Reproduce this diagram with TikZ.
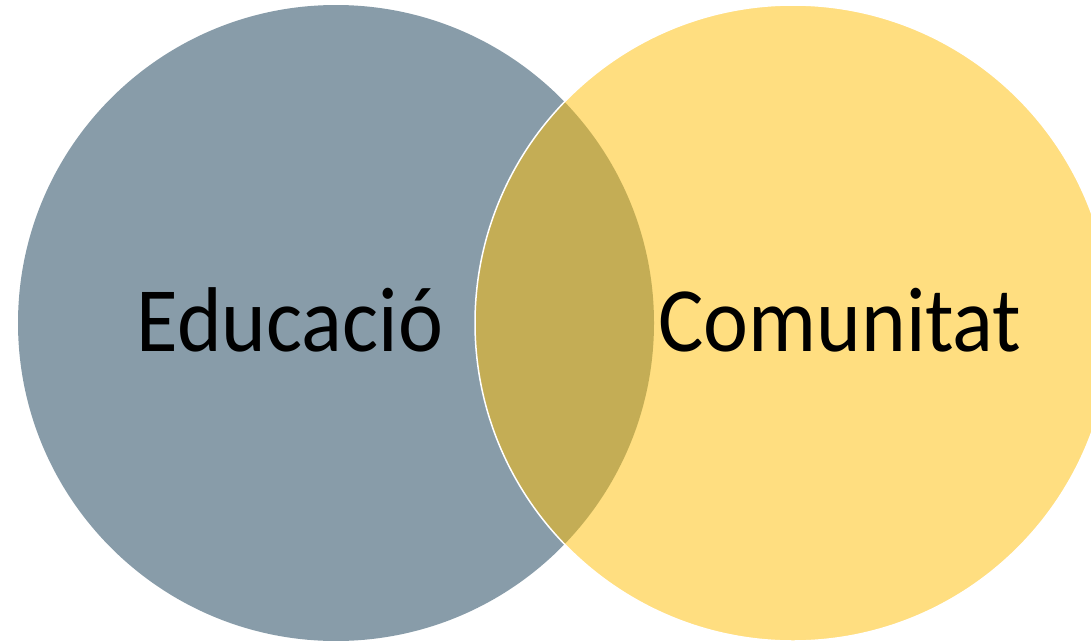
\documentclass[tikz,border=0pt]{standalone}
\usepackage{fontspec}
\setmainfont{Carlito}
\definecolor{edu}{HTML}{889CA9}
\definecolor{com}{HTML}{FFDE80}
\definecolor{lens}{HTML}{C4AD55}
\tikzset{
  label/.style={font=\fontsize{92}{106}\selectfont, text=black, anchor=base, inner sep=0pt, xscale=0.925},
}
\begin{document}
\begin{tikzpicture}[x=1pt,y=-1pt]
\useasboundingbox (0,0) rectangle (1091,640);
\coordinate (cl) at (336,323);
\coordinate (cr) at (793,323);
\fill[edu] (cl) circle (318);
\fill[com] (cr) circle (318);
\begin{scope}
  \clip (cl) circle (318);
  \fill[lens] (cr) circle (318);
\end{scope}
\draw[white, line width=1.5pt] (cr) circle (318);
\node[label] (e) at (290,351) {Educació};
\node[label] (c) at (840,351) {Comunitat};
\end{tikzpicture}
\end{document}
